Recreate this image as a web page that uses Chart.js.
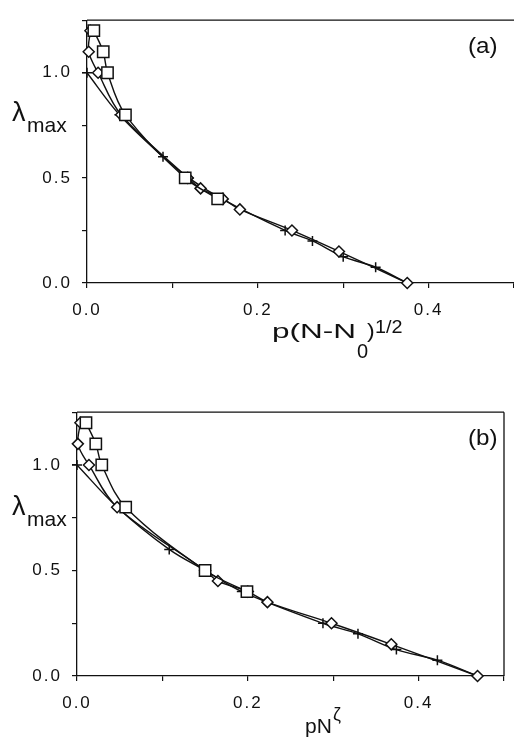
<!DOCTYPE html>
<html>
<head>
<meta charset="utf-8">
<script src="https://cdn.jsdelivr.net/npm/chart.js@4/dist/chart.umd.min.js"></script>
<style>
  body { margin: 0; background: #fff; }
  #wrap { position: relative; width: 514px; height: 738px; overflow: hidden; }
  canvas { position: absolute; left: 0; }
  .lbl { position: absolute; font-family: "Liberation Sans", Arial, sans-serif; line-height: 1; color: #111; white-space: nowrap; transform-origin: 0 0; }
</style>
</head>
<body>
<div id="wrap">
  <canvas id="chartA" width="514" height="330" style="top:0px"></canvas>
  <canvas id="chartB" width="514" height="346" style="top:392px"></canvas>
</div>
<script>
// lambda_max against the scaled variable, three data sets per panel
const yPlus = [1.0, 0.8, 0.6, 0.5, 0.4, 0.25, 0.2, 0.125, 0.075, 0.0];
const yDiamond = [1.2, 1.1, 1.0, 0.8, 0.5, 0.45, 0.4, 0.35, 0.25, 0.15, 0.0];
const ySquare = [1.2, 1.1, 1.0, 0.8, 0.5, 0.4];

// (a) x = p(N-N0)^1/2
const xPlusA = [0.0, 0.038, 0.089, 0.119, 0.158, 0.232, 0.264, 0.300, 0.338, 0.375];
const xDiamondA = [0.004, 0.002, 0.013, 0.040, 0.118, 0.133, 0.159, 0.179, 0.240, 0.295, 0.375];
const xSquareA = [0.008, 0.019, 0.024, 0.045, 0.115, 0.153];

// (b) x = pN^zeta
const xPlusB = [0.0, 0.047, 0.108, 0.150, 0.193, 0.288, 0.329, 0.374, 0.422, 0.469];
const xDiamondB = [0.004, 0.001, 0.014, 0.047, 0.150, 0.165, 0.200, 0.223, 0.298, 0.368, 0.469];
const xSquareB = [0.0105, 0.022, 0.029, 0.057, 0.150, 0.199];

const xTicks = ['0.0', '0.2', '0.4'];
const yTicks = ['0.0', '0.5', '1.0'];

const ink = '#111';
const tickFont = { family: '"Liberation Sans", Arial, sans-serif', size: 17 };

function pts(xs, ys) {
  return xs.map((x, i) => ({ x: x, y: ys[i] }));
}

function series(label, xs, ys, style, radius) {
  return {
    label: label,
    data: pts(xs, ys),
    borderColor: ink,
    borderWidth: 1.4,
    pointStyle: style,
    pointRadius: radius,
    pointHoverRadius: radius,
    pointBackgroundColor: '#fff',
    pointBorderColor: ink,
    pointBorderWidth: 1.5,
    tension: 0.35,
    fill: false,
    clip: false
  };
}

// wider letter spacing for the tick numbers
const spacing = {
  id: 'spacing',
  beforeDraw(chart) { chart.ctx.letterSpacing = '2px'; }
};

// top edge of the frame, right edge only where asked
const frame = {
  id: 'frame',
  afterDraw(chart, args, opts) {
    const a = chart.chartArea, ctx = chart.ctx;
    ctx.save();
    ctx.strokeStyle = ink;
    ctx.lineWidth = 1.3;
    ctx.beginPath();
    ctx.moveTo(a.left, a.top);
    ctx.lineTo(a.right, a.top);
    if (opts.right) {
      ctx.moveTo(a.right, a.top);
      ctx.lineTo(a.right, a.bottom);
    }
    ctx.stroke();
    ctx.restore();
  }
};

function makeChart(id, sets, pad, yWidth, xHeight, rightEdge) {
  return new Chart(document.getElementById(id), {
    type: 'line',
    data: { datasets: sets },
    options: {
      responsive: false,
      animation: false,
      layout: { padding: pad, autoPadding: false },
      plugins: {
        legend: { display: false },
        tooltip: { enabled: false },
        frame: { right: rightEdge }
      },
      scales: {
        x: {
          type: 'linear', min: 0, max: 0.5,
          grid: { display: true, drawOnChartArea: false, drawTicks: true, tickLength: 5, color: ink, lineWidth: 1.2 },
          border: { display: true, color: ink, width: 1.3 },
          ticks: {
            stepSize: 0.1, autoSkip: false, maxRotation: 0, padding: 12, color: ink, font: tickFont,
            callback: v => xTicks.includes(v.toFixed(1)) ? v.toFixed(1) : ''
          },
          afterFit(s) { s.height = xHeight; s.paddingLeft = 0; s.paddingRight = 0; }
        },
        y: {
          type: 'linear', min: 0, max: 1.25,
          grid: { display: true, drawOnChartArea: false, drawTicks: true, tickLength: 5, color: ink, lineWidth: 1.2 },
          border: { display: true, color: ink, width: 1.3 },
          ticks: {
            stepSize: 0.25, autoSkip: false, padding: 10, color: ink, font: tickFont,
            callback: v => (Math.round(v * 4) % 2 === 0 && yTicks.includes(v.toFixed(1))) ? v.toFixed(1) : ''
          },
          afterFit(s) { s.width = yWidth; }
        }
      }
    },
    plugins: [spacing, frame]
  });
}

makeChart('chartA', [
  series('square', xSquareA, ySquare, 'rect', 8),
  series('diamond', xDiamondA, yDiamond, 'rectRot', 5.5),
  series('plus', xPlusA, yPlus, 'cross', 5)
], { top: 13, right: 0, left: 0, bottom: 0 }, 87, 47, false);

makeChart('chartB', [
  series('square', xSquareB, ySquare, 'rect', 8),
  series('diamond', xDiamondB, yDiamond, 'rectRot', 5.5),
  series('plus', xPlusB, yPlus, 'cross', 5)
], { top: 17, right: 10, left: 0, bottom: 0 }, 77, 62, true);

// axis titles and panel tags, placed by left edge and baseline
const wrap = document.getElementById('wrap');
function label(text, left, baseline, size, sx) {
  const d = document.createElement('div');
  d.className = 'lbl';
  d.textContent = text;
  d.style.fontSize = size + 'px';
  d.style.left = left + 'px';
  d.style.top = (baseline - 0.8465 * size) + 'px';
  if (sx) d.style.transform = 'scaleX(' + sx + ')';
  wrap.appendChild(d);
}

label('λ', 12, 122, 27);
label('max', 27, 132, 21);
label('p(N-N', 272, 338, 21, 1.5);
label('0', 357, 358, 20);
label(')', 367, 338, 21, 1.1);
label('1/2', 375, 333, 18, 1.1);
label('(a)', 468, 54, 22, 1.1);

label('λ', 12, 516, 27);
label('max', 27, 526, 21);
label('pN', 305, 733, 21);
label('ζ', 333, 720, 18);
label('(b)', 468, 446, 22, 1.1);
</script>
</body>
</html>
